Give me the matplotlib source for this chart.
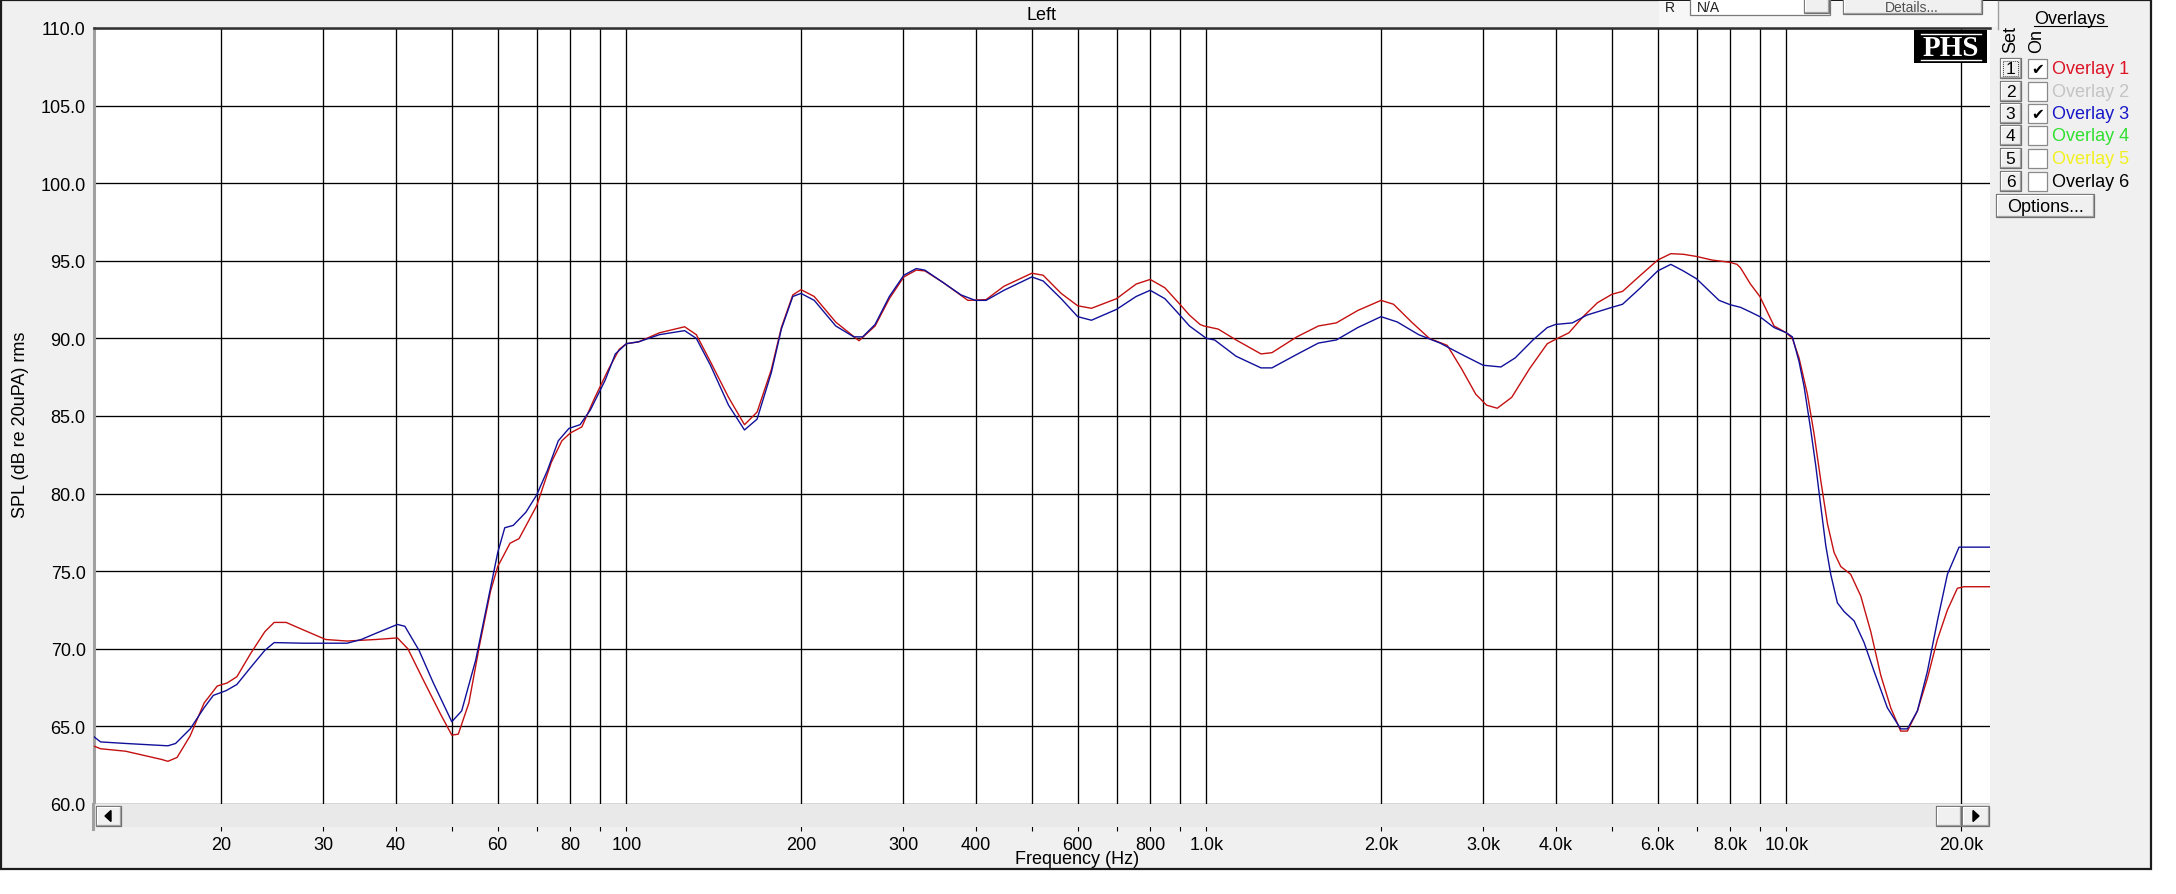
import numpy as np
import matplotlib
matplotlib.use("Agg")
import matplotlib.pyplot as plt
from matplotlib.patches import Rectangle, Polygon
from matplotlib.ticker import FixedLocator, FixedFormatter, NullLocator

plt.rcParams['font.family'] = ['Liberation Sans', 'DejaVu Sans']

W, H = 2176, 895
DPI = 100

# ---------------- data ----------------
freq_red = [12.08, 12.4, 13.7, 15.8, 16.2, 16.8, 17.7, 18.7, 19.7, 20.5, 21.3, 22.5, 23.8, 24.7, 25.9,
            27.8, 30.3, 33.0, 37.0, 40.3, 42.0, 44.5, 47.8, 50.0, 51.3, 53.5, 55.8, 58.3, 60.0, 63.0,
            65.3, 70.0, 74.2, 77.4, 80.0, 83.8, 88.0, 93.1, 97.2, 100, 105, 114, 126, 132, 139.6,
            150, 159.8, 168, 177.8, 185, 193.6, 200, 210.8, 229.6, 251.8, 268.4, 284, 300.8, 316, 327,
            351.6, 388, 417, 447.7, 500, 523, 561.8, 600, 633.6, 700, 756.5, 800, 848, 900, 935,
            975, 990, 1048, 1125, 1242, 1297, 1432, 1560, 1675, 1824, 2000, 2102, 2257, 2423, 2602,
            2754, 2914, 3041, 3173, 3360, 3606, 3870, 4000, 4217, 4462, 4724, 5000, 5218, 5603, 6000,
            6320, 6640, 7000, 7441, 8000, 8221, 8337, 8670, 9000, 9522, 10000, 10240, 10515, 10870,
            11160, 11461, 11770, 12085, 12409, 12907, 13434, 13980, 14543, 15130, 15740, 16168,
            16822, 17503, 18212, 18950, 19714, 20244, 22440]
spl_red = [63.73, 63.56, 63.4, 62.87, 62.75, 63.0, 64.4, 66.5, 67.6, 67.8, 68.2, 69.7, 71.1, 71.7, 71.7,
           71.2, 70.6, 70.5, 70.6, 70.7, 70.0, 68.1, 65.8, 64.44, 64.5, 66.5, 70.2, 73.7, 75.3, 76.8,
           77.1, 79.2, 82.0, 83.4, 83.9, 84.3, 86.1, 88.0, 89.3, 89.66, 89.78, 90.36, 90.75, 90.24, 88.5,
           86.2, 84.44, 85.25, 88.0, 90.7, 92.8, 93.14, 92.7, 91.05, 89.85, 90.8, 92.56, 93.96, 94.4, 94.35,
           93.6, 92.45, 92.5, 93.36, 94.2, 94.07, 92.9, 92.1, 91.94, 92.56, 93.5, 93.8, 93.26, 92.2, 91.5,
           90.9, 90.8, 90.6, 89.9, 89.0, 89.08, 90.1, 90.8, 91.0, 91.8, 92.45, 92.2, 91.06, 90.0, 89.55,
           88.04, 86.4, 85.7, 85.5, 86.2, 88.04, 89.66, 89.94, 90.36, 91.4, 92.3, 92.84, 93.03, 94.07, 95.05,
           95.46, 95.42, 95.28, 95.05, 94.9, 94.77, 94.54, 93.5, 92.7, 90.8, 90.36, 90.0, 88.74, 86.4,
           83.86, 80.85, 78.06, 76.2, 75.3, 74.8, 73.4, 71.1, 68.3, 66.2, 64.7, 64.7,
           66.0, 68.1, 70.6, 72.5, 73.9, 74.0, 74.0]

freq_blue = [12.08, 12.4, 13.7, 16.2, 16.7, 17.7, 18.7, 19.4, 20.4, 21.3, 22.5, 23.8, 24.7, 27.8, 33.0,
             34.9, 37.0, 40.3, 41.5, 43.9, 46.4, 50.0, 52.0, 55.0, 57.4, 60.0, 61.7, 63.8, 67.1, 70.0,
             73.1, 76.3, 79.6, 83.2, 86.7, 91.9, 95.7, 100, 105, 114, 126, 132, 139.6, 150, 159.8,
             168, 177.8, 185, 193.6, 200, 210.8, 229.6, 246.6, 255.5, 268.4, 284, 300.8, 316, 327, 351.6,
             377.6, 399.5, 417, 447.7, 500, 523, 561.8, 600, 633.6, 700, 756.5, 800, 848, 900, 935,
             975, 1000, 1033, 1125, 1242, 1297, 1432, 1560, 1675, 1824, 2000, 2133, 2323, 2528, 2754,
             3000, 3219, 3406, 3657, 3870, 4000, 4276, 4527, 5000, 5218, 5603, 6000, 6320, 6640, 7000,
             7655, 8000, 8337, 8670, 9000, 9522, 10000, 10240, 10515, 10727, 11015, 11236, 11461, 11690,
             11924, 12244, 12572, 13082, 13612, 14163, 14930, 15740, 16168, 16822, 17503, 18212, 18950,
             19846, 22440]
spl_blue = [64.33, 64.0, 63.9, 63.75, 63.9, 64.84, 66.2, 67.0, 67.3, 67.7, 68.8, 69.9, 70.4, 70.36, 70.36,
            70.6, 71.0, 71.57, 71.45, 69.9, 67.85, 65.3, 66.0, 69.3, 72.7, 76.2, 77.8, 77.95, 78.8, 79.9,
            81.5, 83.4, 84.2, 84.44, 85.4, 87.3, 89.0, 89.66, 89.78, 90.24, 90.5, 90.0, 88.27, 85.7, 84.1,
            84.8, 87.8, 90.6, 92.7, 92.9, 92.45, 90.8, 90.1, 90.1, 90.9, 92.7, 94.07, 94.5, 94.4, 93.6,
            92.8, 92.45, 92.45, 93.1, 93.96, 93.7, 92.56, 91.4, 91.17, 91.87, 92.7, 93.1, 92.56, 91.5, 90.8,
            90.3, 90.0, 89.9, 88.85, 88.1, 88.1, 88.97, 89.7, 89.9, 90.7, 91.4, 91.06, 90.24, 89.7, 88.97,
            88.27, 88.16, 88.74, 89.9, 90.7, 90.9, 91.0, 91.5, 92.0, 92.2, 93.26, 94.35, 94.77, 94.35, 93.84,
            92.45, 92.17, 92.0, 91.7, 91.4, 90.7, 90.36, 90.1, 88.5, 86.9, 84.1, 81.8, 79.2, 76.67,
            74.8, 72.96, 72.4, 71.8, 70.4, 68.55, 66.2, 64.84, 64.84, 66.0, 68.55, 71.8, 74.8,
            76.55, 76.55]

grid_freqs = [20, 30, 40, 50, 60, 70, 80, 90, 100, 200, 300, 400, 500, 600, 700, 800, 900,
              1000, 2000, 3000, 4000, 5000, 6000, 7000, 8000, 9000, 10000, 20000]
freq_labels = ['20', '30', '40', '', '60', '', '80', '', '100', '200', '300', '400', '', '600', '',
               '800', '', '1.0k', '2.0k', '3.0k', '4.0k', '', '6.0k', '', '8.0k', '', '10.0k', '20.0k']
spl_ticks = [60, 65, 70, 75, 80, 85, 90, 95, 100, 105, 110]
spl_labels = ['%.1f' % v for v in spl_ticks]
x_range = (12.08, 22440)
y_range = (60, 110)

overlay_names = ['Overlay 1', 'Overlay 2', 'Overlay 3', 'Overlay 4', 'Overlay 5', 'Overlay 6']
overlay_colors = ['#DC1426', '#C4C4C4', '#1818C8', '#30E030', '#F0F020', '#000000']
overlay_on = [True, False, True, False, False, False]

RED = '#C41010'
BLUE = '#10109A'
PANEL = '#F0F0F0'
FS = 13

# ---------------- figure ----------------
fig = plt.figure(figsize=(W / DPI, H / DPI), dpi=DPI, facecolor='white')

bg = fig.add_axes([0, 0, 1, 1], zorder=0)
bg.set_xlim(0, W)
bg.set_ylim(H, 0)
bg.axis('off')
bg.add_patch(Rectangle((1, 1), 2150, 869, facecolor=PANEL, edgecolor='#1c1c1c', lw=1.6))
# lighter toolbar area at the top right
bg.add_patch(Rectangle((1659, 2), 339, 26, facecolor='#F7F7F7', edgecolor='none'))
bg.plot([1998, 1998], [2, 30], color='#A0A0A0', lw=1.0)

# ---------------- plot axes ----------------
L, R, T, B = 94, 1990, 29, 805
ax = fig.add_axes([L / W, 1 - B / H, (R - L) / W, (B - T) / H], zorder=1)
ax.set_facecolor('white')
ax.set_xscale('log')
ax.set_xlim(*x_range)
ax.set_ylim(*y_range)
ax.xaxis.set_major_locator(FixedLocator(grid_freqs))
ax.xaxis.set_major_formatter(FixedFormatter(freq_labels))
ax.xaxis.set_minor_locator(NullLocator())
ax.yaxis.set_major_locator(FixedLocator(spl_ticks))
ax.yaxis.set_major_formatter(FixedFormatter(spl_labels))
ax.yaxis.set_minor_locator(NullLocator())
ax.grid(True, which='major', color='black', lw=0.95)
ax.set_axisbelow(True)
ax.tick_params(axis='x', direction='out', length=19.5, width=0.8, pad=3.5,
               labelsize=FS, colors='black')
ax.tick_params(axis='y', length=0, pad=6, labelsize=FS, colors='black')
for s in ('right', 'bottom'):
    ax.spines[s].set_visible(False)
ax.spines['left'].set_color('#A0A0A0')
ax.spines['left'].set_linewidth(2.2)
ax.spines['top'].set_color('#303030')
ax.spines['top'].set_linewidth(1.8)

ax.plot(freq_red, spl_red, color=RED, lw=1.0, zorder=3)
ax.plot(freq_blue, spl_blue, color=BLUE, lw=1.0, zorder=4)

# ---------------- overlay (widgets) ----------------
ov = fig.add_axes([0, 0, 1, 1], zorder=2)
ov.set_xlim(0, W)
ov.set_ylim(H, 0)
ov.axis('off')
ov.patch.set_alpha(0)


def button(x0, y0, w, h, face=PANEL):
    ov.add_patch(Rectangle((x0, y0), w, h, facecolor=face, edgecolor='#6a6a6a', lw=0.9))
    ov.plot([x0 + 1, x0 + 1, x0 + w - 1], [y0 + h - 1, y0 + 1, y0 + 1], color='white', lw=0.9)
    ov.plot([x0 + 1, x0 + w - 1, x0 + w - 1], [y0 + h - 1, y0 + h - 1, y0 + 1], color='#A0A0A0', lw=0.9)


# scrollbar under the plot
ov.add_patch(Rectangle((L, B), R - L, 23, facecolor='#E9E9E9', edgecolor='none'))
ov.plot([L - 1, L - 1], [B, 830], color='#A0A0A0', lw=2.2)
button(96, 807, 25, 20)
ov.add_patch(Polygon([(105, 817), (111, 811.5), (111, 822.5)], closed=True, color='black'))
button(1936, 807, 25, 20)
button(1962, 807, 27, 20)
ov.add_patch(Polygon([(1979, 817), (1973, 811.5), (1973, 822.5)], closed=True, color='black'))

# texts of the chart
bg.text((L + R) / 2, 15, 'Left', ha='center', va='center', fontsize=FS)
bg.text(1077, 860, 'Frequency (Hz)', ha='center', va='center', fontsize=FS)
bg.text(21, 425, 'SPL (dB re 20uPA) rms', rotation=90, ha='center', va='center', fontsize=FS)

# PHS logo
ov.add_patch(Rectangle((1914, 31), 73, 33, facecolor='black', edgecolor='none'))
ov.text(1951, 48.5, 'PHS', color='white', ha='center', va='center', fontsize=21,
        fontweight='bold', family=['Liberation Serif', 'DejaVu Serif'])
ov.plot([1921, 1981], [34.5, 34.5], color='white', lw=1.0)
ov.plot([1921, 1981], [60.5, 60.5], color='white', lw=1.0)

# top right toolbar (partly off the top of the window)
ov.text(1670, 8, 'R', ha='center', va='center', fontsize=10, color='#202020')
ov.add_patch(Rectangle((1690, -6), 140, 22, facecolor='white', edgecolor='#7a7a7a', lw=0.9))
ov.text(1697, 8, 'N/A', ha='left', va='center', fontsize=10, color='#202020')
button(1804, -6, 25, 20)
button(1843, -6, 139, 21)
ov.text(1912, 8, 'Details...', ha='center', va='center', fontsize=10, color='#505050')

# Overlays panel
ov.text(2070, 19, 'Overlays', ha='center', va='center', fontsize=FS)
ov.plot([2034, 2107], [27, 27], color='black', lw=0.8)
ov.text(2011, 53, 'Set', rotation=90, ha='center', va='bottom', fontsize=FS)
ov.text(2037, 53, 'On', rotation=90, ha='center', va='bottom', fontsize=FS)

row_y = [69, 92, 114, 136, 159, 182]
for i, (name, col, on, yc) in enumerate(zip(overlay_names, overlay_colors, overlay_on, row_y)):
    button(2000, yc - 10, 21, 20)
    ov.text(2010.5, yc + 0.5, str(i + 1), ha='center', va='center', fontsize=FS - 0.5)
    if i == 0:
        ov.add_patch(Rectangle((2003, yc - 7.5), 15, 15, facecolor='none', edgecolor='#404040',
                               lw=0.7, linestyle=(0, (1, 1))))
    ov.add_patch(Rectangle((2028, yc - 9.5), 19, 19, facecolor='white', edgecolor='#8a8a8a', lw=0.9))
    if on:
        ov.text(2037.5, yc + 0.5, '\u2714', ha='center', va='center', fontsize=11,
                family=['DejaVu Sans'], color='black')
    ov.text(2052, yc + 0.5, name, ha='left', va='center', fontsize=FS, color=col)

button(1996, 195, 98, 23)
ov.text(2045, 207, 'Options...', ha='center', va='center', fontsize=FS)

fig.savefig('out.png', dpi=DPI, facecolor='white')
